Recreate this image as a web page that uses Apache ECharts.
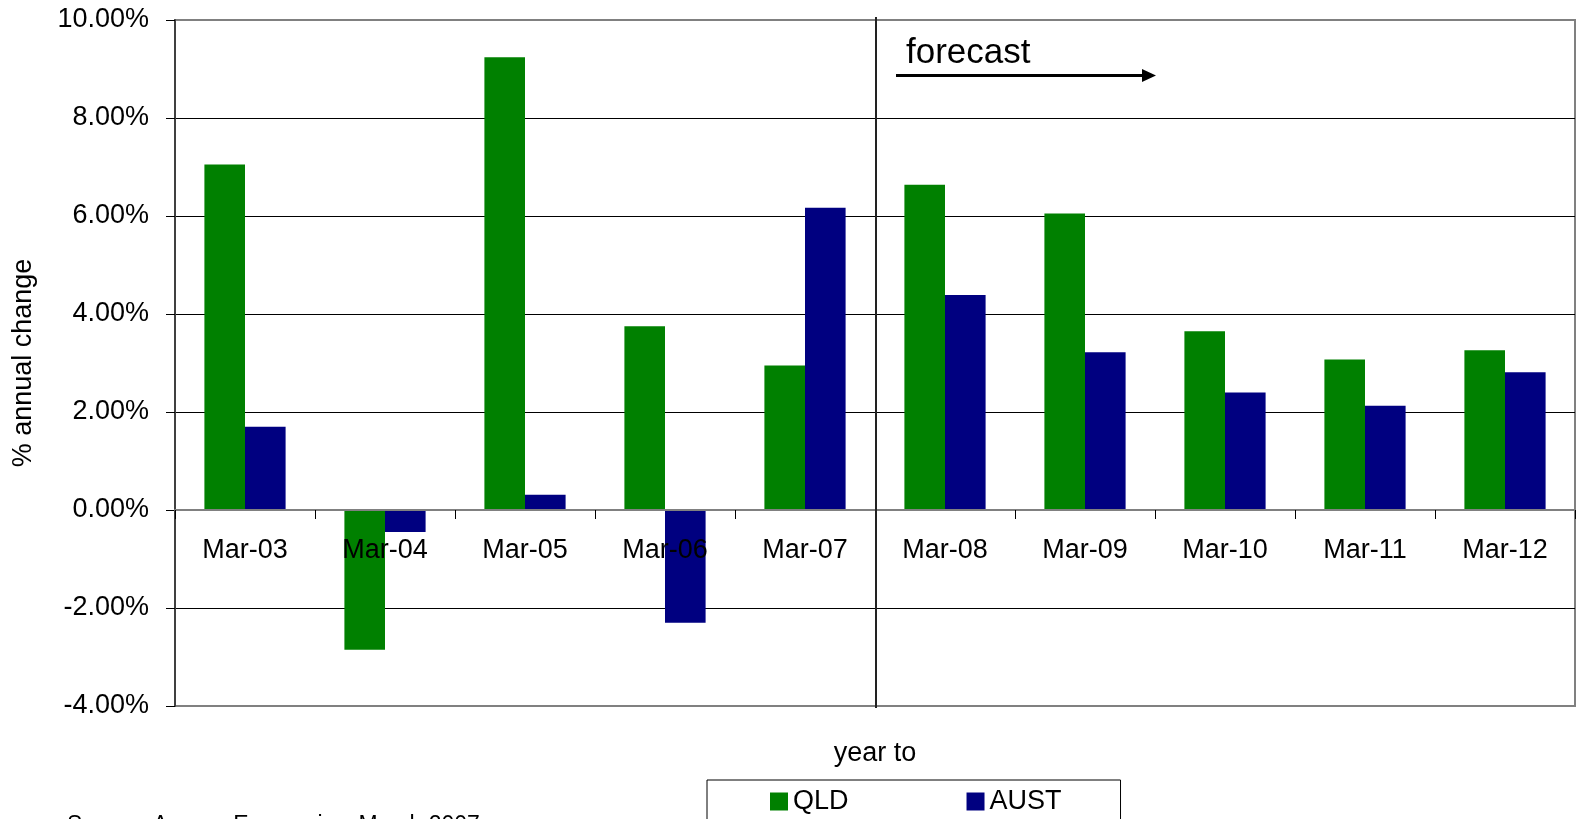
<!DOCTYPE html>
<html>
<head>
<meta charset="utf-8">
<title>Employment growth, QLD vs AUST</title>
<script src="https://cdn.jsdelivr.net/npm/echarts@6/dist/echarts.min.js"></script>
<style>
  html, body { margin: 0; padding: 0; background: #fff; }
  #chart { width: 1577px; height: 819px; }
</style>
</head>
<body>
<div id="chart"></div>
<script>
// Year-to-March categories
const categories = ['Mar-03', 'Mar-04', 'Mar-05', 'Mar-06', 'Mar-07',
                    'Mar-08', 'Mar-09', 'Mar-10', 'Mar-11', 'Mar-12'];
// % annual change
const qld  = [7.05, -2.85, 9.24, 3.75, 2.95, 6.64, 6.05, 3.65, 3.07, 3.26];
const aust = [1.70, -0.45, 0.31, -2.30, 6.17, 4.39, 3.22, 2.40, 2.13, 2.81];
// value axis range and step
const yMin = -4, yMax = 10, yStep = 2;
// first forecast year
const forecastStart = 'Mar-08';

const FONT = '"Liberation Sans", Arial, sans-serif';

const chart = echarts.init(document.getElementById('chart'), null, { renderer: 'canvas' });

const option = {
  animation: false,
  backgroundColor: '#fff',
  textStyle: { fontFamily: FONT, color: '#000' },
  grid: {
    left: 175, right: 2, top: 20, bottom: 113,
    containLabel: false,
    outerBoundsMode: 'none',
    show: true,
    borderColor: '#808080',
    borderWidth: 2,
    backgroundColor: 'transparent'
  },
  legend: {
    left: 707, top: 780,
    orient: 'horizontal',
    icon: 'rect',
    itemWidth: 18, itemHeight: 18,
    itemGap: 118,
    padding: [8, 59, 40, 63],
    borderColor: '#000', borderWidth: 1,
    backgroundColor: '#fff',
    textStyle: { fontFamily: FONT, fontSize: 27, color: '#000' },
    data: ['QLD', 'AUST']
  },
  xAxis: {
    type: 'category',
    data: categories,
    position: 'bottom',
    offset: 0,
    z: 3,
    axisLine: { show: true, onZero: false, lineStyle: { color: '#808080', width: 2 } },
    axisTick: { show: true, length: 9, inside: false, lineStyle: { color: '#000', width: 1 } },
    axisLabel: { fontFamily: FONT, fontSize: 27, color: '#000', margin: 27, interval: 0 },
    splitLine: { show: false }
  },
  yAxis: {
    type: 'value',
    min: yMin, max: yMax, interval: yStep,
    axisLine: { show: true, lineStyle: { color: '#404040', width: 2 } },
    axisTick: { show: true, length: 9, lineStyle: { color: '#000', width: 1 } },
    axisLabel: {
      fontFamily: FONT, fontSize: 27, color: '#000', margin: 26,
      formatter: v => v.toFixed(2) + '%'
    },
    splitLine: {
      show: true,
      lineStyle: {
        width: 1,
        color: ['#808080', '#000', '#808080', '#000', '#000', '#000', '#000', '#808080']
      }
    }
  },
  series: [
    {
      name: 'QLD', type: 'bar', data: qld,
      itemStyle: { color: '#008000' },
      barGap: '0%', barCategoryGap: '42%'
    },
    {
      name: 'AUST', type: 'bar', data: aust,
      itemStyle: { color: '#000080' },
      barGap: '0%', barCategoryGap: '42%'
    }
  ]
};

chart.setOption(option);

// Move the category axis (line, ticks and labels) up to the zero value
const yZeroPx = chart.convertToPixel({ yAxisIndex: 0 }, 0);
const yMinPx = chart.convertToPixel({ yAxisIndex: 0 }, yMin);
chart.setOption({ xAxis: { offset: -(yMinPx - yZeroPx) } });

// Annotations placed from the axis scales
function drawAnnotations() {
  const ci = categories.indexOf(forecastStart);
  const xPrev = chart.convertToPixel({ xAxisIndex: 0 }, categories[ci - 1]);
  const xNext = chart.convertToPixel({ xAxisIndex: 0 }, categories[ci]);
  const xSplit = (xPrev + xNext) / 2 + 1;
  const yTop = chart.convertToPixel({ yAxisIndex: 0 }, yMax);
  const yBot = chart.convertToPixel({ yAxisIndex: 0 }, yMin);

  const arrowY = yTop + 55.5;
  const arrowX0 = xSplit + 20;
  const arrowX1 = xSplit + 280;
  const headLen = 14, headHalf = 6.5;

  chart.setOption({
    graphic: [
      {
        type: 'line', z: 10,
        shape: { x1: xSplit, y1: yTop - 3, x2: xSplit, y2: yBot + 2 },
        style: { stroke: '#222', lineWidth: 2 }
      },
      {
        type: 'line', z: 10,
        shape: { x1: arrowX0, y1: arrowY, x2: arrowX1 - headLen + 1, y2: arrowY },
        style: { stroke: '#000', lineWidth: 3 }
      },
      {
        type: 'polygon', z: 10,
        shape: { points: [[arrowX1 - headLen, arrowY - headHalf], [arrowX1, arrowY], [arrowX1 - headLen, arrowY + headHalf]] },
        style: { fill: '#000' }
      },
      {
        type: 'text', z: 10,
        x: xSplit + 30, y: yTop + 33,
        style: { text: 'forecast', font: '35px ' + FONT, fill: '#000', align: 'left', verticalAlign: 'middle' }
      },
      {
        type: 'text', z: 10,
        x: (chart.convertToPixel({ xAxisIndex: 0 }, categories[0]) + chart.convertToPixel({ xAxisIndex: 0 }, categories[categories.length - 1])) / 2,
        y: 754,
        style: { text: 'year to', font: '27px ' + FONT, fill: '#000', align: 'center', verticalAlign: 'middle' }
      },
      {
        type: 'text', z: 10,
        x: 24, y: (yTop + yBot) / 2,
        rotation: Math.PI / 2,
        style: { text: '% annual change', font: '27px ' + FONT, fill: '#000', align: 'center', verticalAlign: 'middle' }
      },
      {
        type: 'text', z: 10,
        x: 67, y: 826,
        style: { text: 'Source: Access Economics, March 2007', font: '23px ' + FONT, fill: '#000', align: 'left', verticalAlign: 'middle' }
      }
    ]
  });
}

drawAnnotations();
</script>
</body>
</html>
